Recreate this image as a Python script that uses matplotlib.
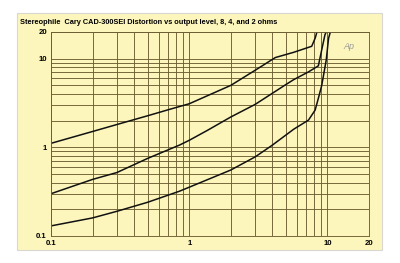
import matplotlib
matplotlib.use("Agg")
import matplotlib.pyplot as plt
from matplotlib.patches import Rectangle
from matplotlib.ticker import LogLocator, NullFormatter, FixedLocator, FixedFormatter

title = "Stereophile  Cary CAD-300SEI Distortion vs output level, 8, 4, and 2 ohms"

# curve 8 ohms (top)
x8 = [0.1, 0.2, 0.3, 0.5, 0.72, 1.0, 2.0, 3.0, 4.2, 5.7, 7.7, 8.15, 8.4]
y8 = [1.11, 1.51, 1.81, 2.27, 2.68, 3.1, 5.0, 7.4, 10.3, 11.8, 13.8, 17.0, 20.0]
# curve 4 ohms (middle)
x4 = [0.1, 0.2, 0.3, 0.5, 0.85, 1.0, 1.35, 2.0, 3.0, 5.0, 5.7, 7.3, 8.6, 9.1, 9.6, 9.8]
y4 = [0.30, 0.435, 0.52, 0.75, 1.06, 1.2, 1.55, 2.2, 3.05, 5.1, 5.8, 7.1, 8.3, 12.6, 18.6, 20.0]
# curve 2 ohms (bottom)
x2 = [0.1, 0.2, 0.3, 0.5, 0.85, 1.0, 2.0, 3.0, 4.0, 5.7, 7.3, 8.15, 8.6, 9.1, 9.8, 10.2, 10.5]
y2 = [0.13, 0.16, 0.19, 0.24, 0.32, 0.355, 0.555, 0.78, 1.06, 1.6, 2.03, 2.63, 3.57, 5.0, 9.6, 17.0, 20.0]

xticks = [0.1, 1, 10, 20]
xticklabels = ["0.1", "1", "10", "20"]
yticks = [0.1, 1, 10, 20]
yticklabels = ["0.1", "1", "10", "20"]

panel_color = "#fcf6bd"
grid_color = "#6e5e34"
font = "Liberation Sans"

fig = plt.figure(figsize=(4.0, 2.63), dpi=100)
fig.patch.set_facecolor("white")
bg = Rectangle((17/400, 1-250/263), 365/400, 237/263, transform=fig.transFigure,
               facecolor=panel_color, edgecolor="#d8d8d0", linewidth=0.8, zorder=-5)
fig.add_artist(bg)

ax = fig.add_axes([51/400, 1-236/263, 318/400, 204/263])
ax.set_zorder(2)
ax.set_facecolor(panel_color)
ax.set_xscale("log")
ax.set_yscale("log")
ax.set_xlim(0.1, 20)
ax.set_ylim(0.1, 20)

ax.xaxis.set_major_locator(FixedLocator(xticks))
ax.xaxis.set_major_formatter(FixedFormatter(xticklabels))
ax.yaxis.set_major_locator(FixedLocator(yticks))
ax.yaxis.set_major_formatter(FixedFormatter(yticklabels))
ax.xaxis.set_minor_locator(LogLocator(base=10, subs=range(2, 10)))
ax.yaxis.set_minor_locator(LogLocator(base=10, subs=range(2, 10)))
ax.xaxis.set_minor_formatter(NullFormatter())
ax.yaxis.set_minor_formatter(NullFormatter())
ax.grid(True, which="both", color=grid_color, linewidth=0.65)
ax.tick_params(which="both", length=0, pad=3, labelsize=5.6, colors="black")
for lab in ax.get_xticklabels() + ax.get_yticklabels():
    lab.set_fontweight("bold")
    lab.set_fontfamily(font)
for s in ax.spines.values():
    s.set_color(grid_color)
    s.set_linewidth(0.65)

for xs, ys in [(x8, y8), (x4, y4), (x2, y2)]:
    ax.plot(xs, ys, color="#111111", linewidth=1.1, clip_on=True)

ax.text(0.955, 0.93, "Ap", transform=ax.transAxes, fontsize=6.5, style="italic",
        color="#9a9a9a", ha="right", va="center", family=font)

fig.text(20/400, 1-22/263, title, fontsize=5.3, fontweight="bold", ha="left", va="center",
         family=font)

fig.savefig("out.png", dpi=100)
